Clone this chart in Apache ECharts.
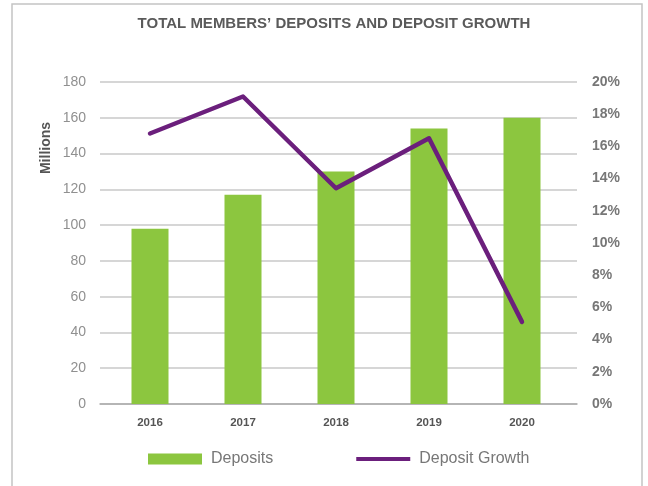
<!DOCTYPE html>
<html>
<head>
<meta charset="utf-8">
<script src="https://cdn.jsdelivr.net/npm/echarts@6/dist/echarts.min.js"></script>
<style>
html,body{margin:0;padding:0;background:#fff;}
#chart{width:648px;height:486px;}
</style>
</head>
<body>
<div id="chart"></div>
<script>
const categories = ['2016', '2017', '2018', '2019', '2020'];
const deposits = [98, 117, 130, 154, 160];
const depositGrowth = [16.8, 19.1, 13.4, 16.5, 5.1];
const leftTicks = [0, 20, 40, 60, 80, 100, 120, 140, 160, 180];
const rightTicks = [0, 2, 4, 6, 8, 10, 12, 14, 16, 18, 20];

const chart = echarts.init(document.getElementById('chart'));
const option = {
  animation: false,
  backgroundColor: '#fff',
  title: {
    text: 'TOTAL MEMBERS\u2019 DEPOSITS AND DEPOSIT GROWTH',
    left: 334, top: 16, padding: 0, textAlign: 'center',
    textStyle: { fontFamily: 'Liberation Sans, sans-serif', fontWeight: 'bold', fontSize: 15, color: '#5a5a5a' }
  },
  graphic: [
    { type: 'rect', shape: { x: 12, y: 4, width: 630, height: 490 }, style: { fill: 'none', stroke: '#c4c4c4', lineWidth: 1.5 }, silent: true },
    { type: 'text', x: 46, y: 148, rotation: Math.PI / 2, style: { text: 'Millions', fontFamily: 'Liberation Sans, sans-serif', fontWeight: 'bold', fontSize: 14, fill: '#555', align: 'center', verticalAlign: 'middle' } }
  ],
  legend: {
    left: 143, top: 446, itemGap: 83, itemWidth: 54, itemHeight: 11,
    textStyle: { fontFamily: 'Liberation Sans, sans-serif', fontSize: 16, color: '#777', padding: [0, 0, 0, 4] },
    data: [
      { name: 'Deposits', icon: 'rect' },
      { name: 'Deposit Growth', icon: 'path://M0,0H54V4H0Z' }
    ]
  },
  grid: [
    { left: 103.5, right: 79.5, top: 82, bottom: 82 },
    { left: 100, right: 71, top: 82, bottom: 82 }
  ],
  xAxis: [
    { type: 'category', gridIndex: 0, data: categories,
      axisLine: { show: false }, axisTick: { show: false },
      axisLabel: { margin: 13, fontFamily: 'Liberation Sans, sans-serif', fontWeight: 'bold', fontSize: 11.5, color: '#555' } },
    { type: 'category', gridIndex: 1, data: categories,
      axisLine: { show: true, lineStyle: { color: '#aaa', width: 1.5 } }, axisTick: { show: false },
      axisLabel: { show: false } }
  ],
  yAxis: [
    { type: 'value', gridIndex: 0, min: 0, max: 180, interval: 20, show: false },
    { type: 'value', gridIndex: 0, min: 0, max: 20, interval: 2, show: false },
    { type: 'value', gridIndex: 1, min: 0, max: 180, interval: 20, position: 'left',
      axisLine: { show: false }, axisTick: { show: false },
      splitLine: { lineStyle: { color: '#c8c8c8', width: 1.5 } },
      axisLabel: { margin: 14, fontFamily: 'Liberation Sans, sans-serif', fontSize: 14, color: '#909090',
        formatter: v => leftTicks.includes(v) ? String(v) : '' } },
    { type: 'value', gridIndex: 1, min: 0, max: 20, interval: 2, position: 'right',
      axisLine: { show: false }, axisTick: { show: false }, splitLine: { show: false },
      axisLabel: { margin: 15, fontFamily: 'Liberation Sans, sans-serif', fontWeight: 'bold', fontSize: 14, color: '#777',
        formatter: v => rightTicks.includes(v) ? v + '%' : '' } }
  ],
  series: [
    { name: 'Deposits', type: 'bar', xAxisIndex: 0, yAxisIndex: 0, data: deposits, barWidth: 37,
      itemStyle: { color: '#8cc63f' }, z: 2 },
    { name: 'Deposit Growth', type: 'line', xAxisIndex: 0, yAxisIndex: 1, data: depositGrowth,
      symbol: 'none', lineStyle: { color: '#6b1f7c', width: 4.5, cap: 'round', join: 'round' },
      itemStyle: { color: '#6b1f7c' }, z: 3 }
  ]
};
chart.setOption(option);
</script>
</body>
</html>
